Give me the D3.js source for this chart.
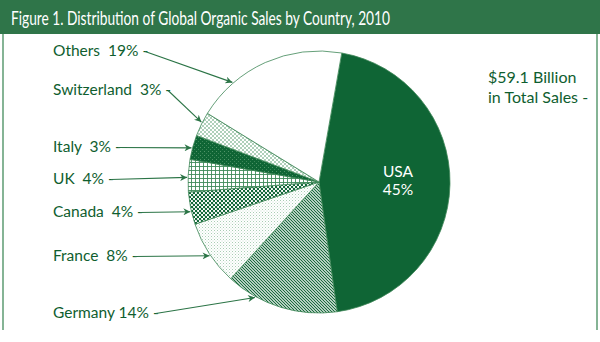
<!DOCTYPE html>
<html>
<head>
<meta charset="utf-8">
<script src="https://cdn.jsdelivr.net/npm/d3@7"></script>
<style>
  html, body { margin: 0; padding: 0; background: #fff; }
  svg { display: block; }
</style>
</head>
<body>
<svg id="chart" width="600" height="342"></svg>
<script>
// Share of global organic sales by country, 2010 (percent)
const categories = ["USA", "Germany", "France", "Canada", "UK", "Italy", "Switzerland", "Others"];
const shares = [45, 14, 8, 4, 4, 3, 3, 19];
const totalSales = "$59.1 Billion";
const titleText = "Figure 1. Distribution of Global Organic Sales by Country, 2010";

// Fill per slice (solid colour or pattern id)
const fills = ["#0f6535", "url(#p-diag)", "url(#p-fine)", "url(#p-dots)", "url(#p-grid)", "url(#p-dark)", "url(#p-lattice)", "#ffffff"];
// Label anchor (left x, baseline y) and angle (deg, clockwise from 12 o'clock) where each arrow touches the pie
const labelPos = {
  Germany: [53, 318, 209], France: [53, 261, 236], Canada: [53, 217, 257],
  UK: [53, 184, 272], Italy: [53, 152, 285], Switzerland: [53, 95, 297], Others: [53, 56, 319]
};

const W = 600, H = 342;
const svg = d3.select("#chart");
const green = "#0f5e2f", lineGreen = "#2b7446";
const lf = "Lato, 'Open Sans', sans-serif";

const defs = svg.append("defs");
// diagonal stripes (top-left to bottom-right)
const pd = defs.append("pattern").attr("id", "p-diag").attr("patternUnits", "userSpaceOnUse")
  .attr("width", 3).attr("height", 3);
pd.append("rect").attr("width", 3).attr("height", 3).attr("fill", "#fff");
pd.append("path").attr("d", "M-1,-1L4,4M-1,2L1,4M2,-1L4,1")
  .attr("stroke", "#126637").attr("stroke-width", 1.2).attr("fill", "none");
// sparse fine dots
const pf = defs.append("pattern").attr("id", "p-fine").attr("patternUnits", "userSpaceOnUse").attr("width", 3).attr("height", 3);
pf.append("rect").attr("width", 3).attr("height", 3).attr("fill", "#fff");
pf.append("rect").attr("x", 0).attr("y", 0).attr("width", 1).attr("height", 1).attr("fill", "#a9cdb4");
pf.append("rect").attr("x", 1.5).attr("y", 1.5).attr("width", 1).attr("height", 1).attr("fill", "#c7dfcf");
// dense dark dots
const pc = defs.append("pattern").attr("id", "p-dots").attr("patternUnits", "userSpaceOnUse").attr("width", 4).attr("height", 4);
pc.append("rect").attr("width", 4).attr("height", 4).attr("fill", "#fff");
pc.append("circle").attr("cx", 1).attr("cy", 1).attr("r", 1.25).attr("fill", "#0f6535");
pc.append("circle").attr("cx", 3).attr("cy", 3).attr("r", 1.25).attr("fill", "#0f6535");
// square grid
const pg = defs.append("pattern").attr("id", "p-grid").attr("patternUnits", "userSpaceOnUse").attr("width", 4).attr("height", 4);
pg.append("rect").attr("width", 4).attr("height", 4).attr("fill", "#fff");
pg.append("path").attr("d", "M0,0.5H4M0.5,0V4").attr("stroke", "#3f8a5a").attr("stroke-width", 0.9).attr("fill", "none");
// dark with light specks
const pk = defs.append("pattern").attr("id", "p-dark").attr("patternUnits", "userSpaceOnUse").attr("width", 4).attr("height", 4);
pk.append("rect").attr("width", 4).attr("height", 4).attr("fill", "#0f6535");
pk.append("rect").attr("x", 1).attr("y", 1).attr("width", 1).attr("height", 1).attr("fill", "#4f9468");
pk.append("rect").attr("x", 3).attr("y", 3).attr("width", 1).attr("height", 1).attr("fill", "#3b8557");
// light diamond lattice
const pl = defs.append("pattern").attr("id", "p-lattice").attr("patternUnits", "userSpaceOnUse").attr("width", 4).attr("height", 4);
pl.append("rect").attr("width", 4).attr("height", 4).attr("fill", "#fff");
pl.append("path").attr("d", "M0,0L4,4M4,0L0,4").attr("stroke", "#8dbb9c").attr("stroke-width", 0.7).attr("fill", "none");
// arrowhead
defs.append("marker").attr("id", "arrow").attr("viewBox", "0 0 10 10").attr("refX", 10).attr("refY", 5)
  .attr("markerWidth", 8).attr("markerHeight", 7).attr("markerUnits", "userSpaceOnUse").attr("orient", "auto")
  .append("path").attr("d", "M0,0L10,5L0,10L3,5Z").attr("fill", lineGreen);

// header band and frame
svg.append("rect").attr("x", 0).attr("y", 0).attr("width", W).attr("height", 34).attr("fill", "#2f7549");
svg.append("line").attr("x1", 3).attr("x2", 3).attr("y1", 34).attr("y2", 330).attr("stroke", "#5d9b72").attr("stroke-width", 1.5);
svg.append("line").attr("x1", 597).attr("x2", 597).attr("y1", 34).attr("y2", 330).attr("stroke", "#5d9b72").attr("stroke-width", 1.5);
svg.append("text").attr("x", 11).attr("y", 25).attr("fill", "#fff")
  .attr("font-family", lf).attr("font-size", 19)
  .attr("textLength", 379).attr("lengthAdjust", "spacingAndGlyphs").text(titleText);

// pie
const cx = 319, cy = 182, R = 131;
const toRad = d => d * Math.PI / 180;
const start = toRad(10);
const pie = d3.pie().sort(null).value(d => d.v).startAngle(start).endAngle(start + 2 * Math.PI);
const rows = categories.map((c, i) => ({ c, v: shares[i], fill: fills[i] }));
const arcs = pie(rows);
const arc = d3.arc().innerRadius(0).outerRadius(R);
const g = svg.append("g").attr("transform", `translate(${cx},${cy})`);
g.selectAll("path").data(arcs).join("path")
  .attr("d", arc).attr("fill", d => d.data.fill)
  .attr("stroke", "#3d8757").attr("stroke-width", 0.8).attr("stroke-linejoin", "round");

// USA label inside its slice
const usa = arcs[0];
const ut = svg.append("text").attr("fill", "#fff").attr("text-anchor", "middle")
  .attr("font-family", lf).attr("font-size", 15.5);
ut.append("tspan").attr("x", 398).attr("y", 177).text(usa.data.c);
ut.append("tspan").attr("x", 398).attr("y", 195).text(usa.data.v + "%");

// outside labels with arrows
arcs.slice(1).forEach(a => {
  const name = a.data.c;
  const [lx, ly, angDeg] = labelPos[name];
  const t = svg.append("text").attr("x", lx).attr("y", ly).attr("fill", green)
    .attr("font-family", lf).attr("font-size", 15.5)
    .attr("xml:space", "preserve")
    .text(name + (name === "Germany" ? " " : "  ") + a.data.v + "% -");
  const bb = t.node().getComputedTextLength();
  const th = toRad(angDeg);
  const tx = cx + (R + 1) * Math.sin(th), ty = cy - (R + 1) * Math.cos(th);
  const sx = lx + bb - 3, sy = ly - 4.5;
  svg.append("line").attr("x1", sx).attr("y1", sy).attr("x2", tx).attr("y2", ty)
    .attr("stroke", lineGreen).attr("stroke-width", 1.1).attr("marker-end", "url(#arrow)");
});

// total sales note
const tt = svg.append("text").attr("fill", green).attr("font-family", lf).attr("font-size", 16);
tt.append("tspan").attr("x", 488).attr("y", 83).text(totalSales);
tt.append("tspan").attr("x", 488).attr("y", 103).text("in Total Sales -");
</script>
</body>
</html>
